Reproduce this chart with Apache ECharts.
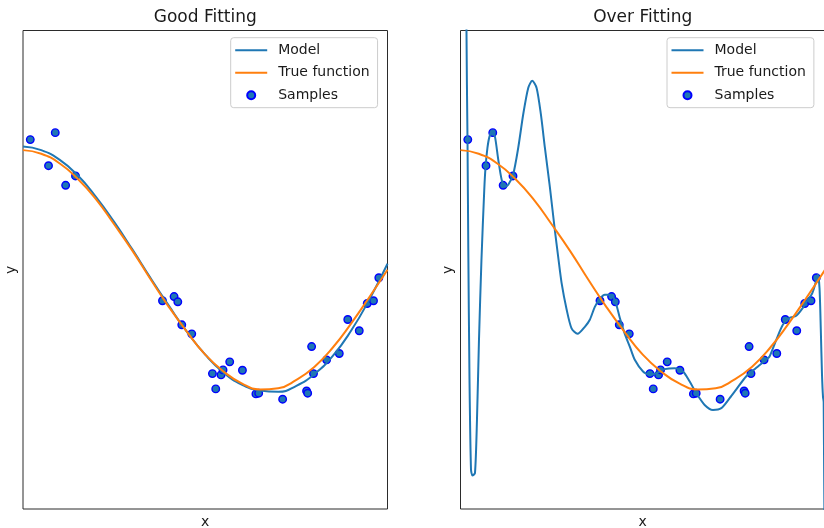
<!DOCTYPE html>
<html>
<head>
<meta charset="utf-8">
<script src="https://cdn.jsdelivr.net/npm/echarts@6/dist/echarts.min.js"></script>
<style>
html,body{margin:0;padding:0;background:#fff;}
#chart{width:824px;height:528px;}
</style>
</head>
<body>
<div id="chart"></div>
<script>
// ---- data ----
const panelTitles = ['Good Fitting', 'Over Fitting'];
const legendNames = ['Model', 'True function', 'Samples'];

const sampleX = [0.020, 0.0885, 0.070, 0.117, 0.144, 0.3827, 0.4145, 0.4247, 0.4356, 0.463,
  0.5197, 0.5288, 0.5433, 0.5488, 0.5671, 0.602, 0.639, 0.6466, 0.7123, 0.778,
  0.781, 0.7918, 0.797, 0.8329, 0.8677, 0.891, 0.9225, 0.9444, 0.9616, 0.9762];
const sampleY = [1.088, 1.146, 0.870, 0.706, 0.784, -0.259, -0.224, -0.268, -0.460, -0.536,
  -0.868, -0.996, -0.879, -0.837, -0.770, -0.840, -1.038, -1.032, -1.082, -1.013,
  -1.032, -0.642, -0.868, -0.753, -0.700, -0.416, -0.510, -0.282, -0.259, -0.067];

const curveX = [0, 0.05, 0.1, 0.15, 0.2, 0.25, 0.3, 0.35, 0.4, 0.45, 0.5,
  0.55, 0.6, 0.65, 0.7, 0.75, 0.8, 0.85, 0.9, 0.95, 1.0];
const trueY = [1.00, 0.97, 0.89, 0.76, 0.59, 0.38, 0.16, -0.08, -0.31, -0.52, -0.71,
  -0.85, -0.95, -1.00, -0.99, -0.92, -0.81, -0.65, -0.45, -0.23, 0.00];
const goodModelY = [1.03, 1.00, 0.92, 0.79, 0.61, 0.40, 0.17, -0.07, -0.30, -0.52, -0.71,
  -0.86, -0.96, -1.01, -1.02, -0.97, -0.87, -0.72, -0.51, -0.25, 0.05];

const overModelX = [0.0, 0.0164, 0.0192, 0.0214, 0.0247, 0.0288, 0.0329, 0.0397, 0.0452, 0.0507,
  0.0575, 0.0652, 0.0690, 0.0740, 0.0795, 0.0871, 0.0945, 0.1036, 0.1129, 0.1219,
  0.1310, 0.1447, 0.1584, 0.1721, 0.1858, 0.1967, 0.2088, 0.2205, 0.2315, 0.2452,
  0.2589, 0.2679, 0.2773, 0.2910, 0.3047, 0.3211, 0.3411, 0.3548, 0.3685, 0.3822,
  0.3959, 0.4096, 0.4233, 0.4370, 0.4507, 0.4644, 0.4781, 0.5008, 0.5192, 0.5375,
  0.5603, 0.5877, 0.6104, 0.6288, 0.6471, 0.6699, 0.6926, 0.7156, 0.7384, 0.7567,
  0.7841, 0.8115, 0.8389, 0.8479, 0.8663, 0.8844, 0.9027, 0.9211, 0.9392, 0.9529,
  0.9644, 0.9726, 0.9803, 0.9849, 0.9885, 0.9918, 0.9945, 0.9964, 1.0];
const overModelY = [25, 2.0, 1.09, 0.17, -0.92, -1.67, -1.72, -1.70, -1.255, -0.586,
  0.084, 0.669, 0.870, 1.021, 1.113, 1.159, 1.113, 0.921, 0.753, 0.695,
  0.71, 0.80, 1.02, 1.30, 1.52, 1.58, 1.52, 1.30, 1.02, 0.69,
  0.33, 0.11, -0.11, -0.33, -0.49, -0.536, -0.477, -0.418, -0.310, -0.243,
  -0.209, -0.209, -0.251, -0.402, -0.536, -0.642, -0.753, -0.851, -0.879, -0.864,
  -0.831, -0.823, -0.851, -0.935, -1.032, -1.130, -1.172, -1.157, -1.074, -1.00,
  -0.89, -0.82, -0.75, -0.725, -0.586, -0.460, -0.402, -0.385, -0.318, -0.251,
  -0.201, -0.126, -0.042, -0.151, -0.502, -0.879, -1.063, -1.105, -3.0];

const xRange = [0, 1];
const yRange = [-2, 2];

// ---- build option ----
const zip = (xs, ys) => xs.map((x, i) => [x, ys[i]]);
const samples = zip(sampleX, sampleY);
const trueCurve = zip(curveX, trueY);
const modelCurves = [zip(curveX, goodModelY), zip(overModelX, overModelY)];

const FONT = 'DejaVu Sans';
const TXT = '#1a1a1a';
const gridLefts = [23, 460.5];
const gridTop = 30.5, gridW = 364.5, gridH = 478.5;

const grids = [], xAxes = [], yAxes = [], series = [], legends = [], graphics = [];
[0, 1].forEach(i => {
  grids.push({left: gridLefts[i], top: gridTop, width: gridW, height: gridH,
    show: true, borderColor: '#2b2b2b', borderWidth: 1, backgroundColor: '#fff',
    containLabel: false, outerBoundsMode: 'none'});
  xAxes.push({type: 'value', gridIndex: i, min: xRange[0], max: xRange[1],
    axisLine: {show: false}, axisTick: {show: false}, axisLabel: {show: false}, splitLine: {show: false},
    name: 'x', nameLocation: 'middle', nameGap: 6,
    nameTextStyle: {fontFamily: FONT, fontSize: 14, color: TXT}});
  yAxes.push({type: 'value', gridIndex: i, min: yRange[0], max: yRange[1],
    axisLine: {show: false}, axisTick: {show: false}, axisLabel: {show: false}, splitLine: {show: false},
    name: 'y', nameLocation: 'middle', nameGap: 5,
    nameTextStyle: {fontFamily: FONT, fontSize: 14, color: TXT}});
  series.push({name: legendNames[0], type: 'line', xAxisIndex: i, yAxisIndex: i,
    data: modelCurves[i], showSymbol: false, symbol: 'none', smooth: i === 0 ? true : 0.25,
    clip: true, color: '#1f77b4', lineStyle: {color: '#1f77b4', width: 2}, animation: false});
  series.push({name: legendNames[1], type: 'line', xAxisIndex: i, yAxisIndex: i,
    data: trueCurve, showSymbol: false, symbol: 'none', smooth: true,
    clip: true, color: '#ff7f0e', lineStyle: {color: '#ff7f0e', width: 2}, animation: false});
  series.push({name: legendNames[2], type: 'scatter', xAxisIndex: i, yAxisIndex: i,
    data: samples, symbol: 'circle', symbolSize: 7.5, clip: true,
    itemStyle: {color: '#1f77b4', borderColor: '#0000ff', borderWidth: 1.4, opacity: 1},
    animation: false});
  const legendLeft = [230.7, 667][i];
  legends.push({
    orient: 'vertical', left: legendLeft, top: 37.7,
    itemWidth: 32, itemHeight: 8, itemGap: 6.5,
    padding: [4.5, 8, 4.5, 4.5],
    backgroundColor: 'rgba(255,255,255,0.8)', borderColor: '#cccccc', borderWidth: 1, borderRadius: 3,
    selectedMode: false,
    textStyle: {fontFamily: FONT, fontSize: 14, color: TXT, lineHeight: 16, padding: [0, 0, 0, 6]},
    data: [
      {name: legendNames[0], icon: 'path://M0,0 L32,0 L32,2 L0,2 Z'},
      {name: legendNames[1], icon: 'path://M0,0 L32,0 L32,2 L0,2 Z'},
      {name: legendNames[2], icon: 'circle'}
    ]
  });
  graphics.push({type: 'text', x: gridLefts[i] + gridW / 2, y: 17.5,
    style: {text: panelTitles[i], fill: TXT, font: '17px "DejaVu Sans"', align: 'center', verticalAlign: 'middle'}});
});

const chart = echarts.init(document.getElementById('chart'), null, {renderer: 'canvas'});
chart.setOption({
  backgroundColor: '#fff',
  animation: false,
  grid: grids, xAxis: xAxes, yAxis: yAxes, series: series, legend: legends, graphic: graphics
});
</script>
</body>
</html>
